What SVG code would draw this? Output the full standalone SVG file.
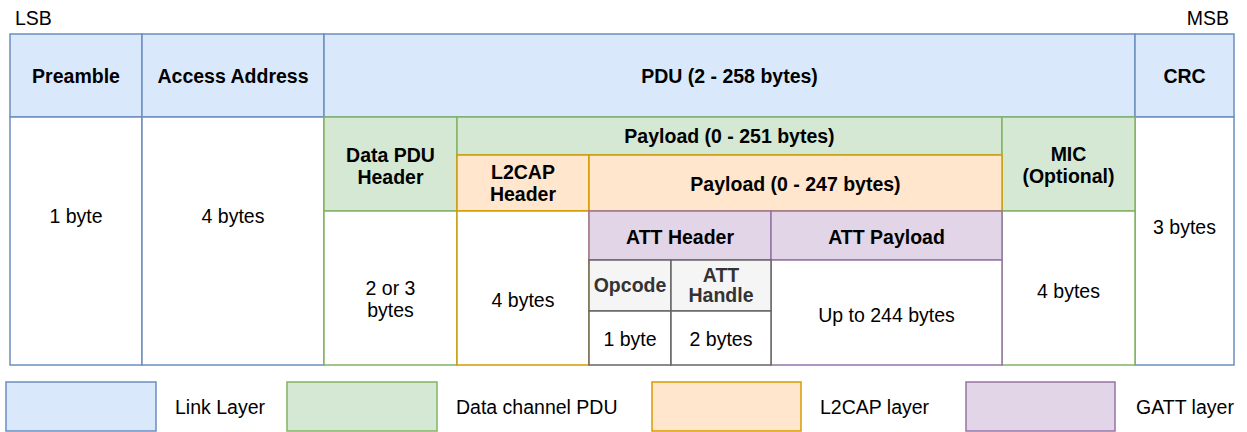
<svg xmlns="http://www.w3.org/2000/svg" width="1247" height="432" viewBox="0 0 1247 432">
  <style>
    text { font-family: "Liberation Sans", Arial, Helvetica, sans-serif; font-size: 19.5px; fill: #000; text-anchor: middle; }
    .b { font-weight: bold; }
    .l { text-anchor: start; }
    .r { text-anchor: end; }
    .grey { fill: #333333; }
    rect { stroke-width: 1.5; }
    .link { fill: #dae8fc; stroke: #6c8ebf; }
    .linkw { fill: #ffffff; stroke: #6c8ebf; }
    .pdu { fill: #d5e8d4; stroke: #82b366; }
    .pduw { fill: #ffffff; stroke: #82b366; }
    .l2 { fill: #ffe6cc; stroke: #d79b00; }
    .l2w { fill: #ffffff; stroke: #d79b00; }
    .att { fill: #e1d5e7; stroke: #9673a6; }
    .attw { fill: #ffffff; stroke: #9673a6; }
    .sub { fill: #f5f5f5; stroke: #666666; }
    .subw { fill: #ffffff; stroke: #666666; }
  </style>

  <!-- bit order labels -->
  <text class="l" x="15" y="25">LSB</text>
  <text class="r" x="1229" y="25">MSB</text>

  <!-- Link layer packet -->
  <g id="preamble">
    <rect class="link" x="10" y="34" width="132" height="83"/>
    <text class="b" x="76" y="82.5">Preamble</text>
  </g>
  <g id="preamble-size">
    <rect class="linkw" x="10" y="117" width="132" height="248"/>
    <text x="76" y="223">1 byte</text>
  </g>
  <g id="access-address">
    <rect class="link" x="142" y="34" width="182" height="83"/>
    <text class="b" x="233" y="82.5">Access Address</text>
  </g>
  <g id="access-address-size">
    <rect class="linkw" x="142" y="117" width="182" height="248"/>
    <text x="233" y="223">4 bytes</text>
  </g>
  <g id="pdu">
    <rect class="link" x="324" y="34" width="811" height="83"/>
    <text class="b" x="729.5" y="82.5">PDU (2 - 258 bytes)</text>
  </g>
  <g id="crc">
    <rect class="link" x="1135" y="34" width="99" height="83"/>
    <text class="b" x="1184.5" y="82.5">CRC</text>
  </g>
  <g id="crc-size">
    <rect class="linkw" x="1135" y="117" width="99" height="248"/>
    <text x="1184.5" y="234">3 bytes</text>
  </g>

  <!-- Data channel PDU -->
  <g id="data-pdu-header">
    <rect class="pdu" x="324" y="117" width="133" height="94"/>
    <text class="b" x="390.5" y="162">Data PDU</text>
    <text class="b" x="390.5" y="184">Header</text>
  </g>
  <g id="data-pdu-header-size">
    <rect class="pduw" x="324" y="211" width="133" height="154"/>
    <text x="390.5" y="295">2 or 3</text>
    <text x="390.5" y="317">bytes</text>
  </g>
  <g id="pdu-payload">
    <rect class="pdu" x="457" y="117" width="545" height="38"/>
    <text class="b" x="729.5" y="143">Payload (0 - 251 bytes)</text>
  </g>
  <g id="mic">
    <rect class="pdu" x="1002" y="117" width="133" height="94"/>
    <text class="b" x="1068.5" y="161">MIC</text>
    <text class="b" x="1068.5" y="183">(Optional)</text>
  </g>
  <g id="mic-size">
    <rect class="pduw" x="1002" y="211" width="133" height="154"/>
    <text x="1068.5" y="298">4 bytes</text>
  </g>

  <!-- L2CAP layer -->
  <g id="l2cap-header">
    <rect class="l2" x="457" y="155" width="132" height="56"/>
    <text class="b" x="523" y="179">L2CAP</text>
    <text class="b" x="523" y="201">Header</text>
  </g>
  <g id="l2cap-header-size">
    <rect class="l2w" x="457" y="211" width="132" height="154"/>
    <text x="523" y="307">4 bytes</text>
  </g>
  <g id="l2cap-payload">
    <rect class="l2" x="589" y="155" width="413" height="56"/>
    <text class="b" x="795.5" y="191">Payload (0 - 247 bytes)</text>
  </g>

  <!-- GATT layer -->
  <g id="att-header">
    <rect class="att" x="589" y="211" width="182" height="49"/>
    <text class="b" x="680" y="244">ATT Header</text>
  </g>
  <g id="att-payload">
    <rect class="att" x="771" y="211" width="231" height="49"/>
    <text class="b" x="886.5" y="244">ATT Payload</text>
  </g>
  <g id="att-payload-size">
    <rect class="attw" x="771" y="260" width="231" height="105"/>
    <text x="886.5" y="322">Up to 244 bytes</text>
  </g>
  <g id="opcode">
    <rect class="sub" x="589" y="260" width="82" height="51"/>
    <text class="b grey" x="630" y="292">Opcode</text>
  </g>
  <g id="opcode-size">
    <rect class="subw" x="589" y="311" width="82" height="54"/>
    <text x="630" y="346">1 byte</text>
  </g>
  <g id="att-handle">
    <rect class="sub" x="671" y="260" width="100" height="51"/>
    <text class="b grey" x="721" y="282">ATT</text>
    <text class="b grey" x="721" y="302">Handle</text>
  </g>
  <g id="att-handle-size">
    <rect class="subw" x="671" y="311" width="100" height="54"/>
    <text x="721" y="346">2 bytes</text>
  </g>

  <!-- no connectors in this layout -->
  <g id="connectors"/>

  <!-- legend -->
  <g id="legend-link">
    <rect class="link" x="6" y="382" width="150" height="49"/>
    <text class="l" x="175" y="414">Link Layer</text>
  </g>
  <g id="legend-pdu">
    <rect class="pdu" x="287" y="382" width="150" height="49"/>
    <text class="l" x="456" y="414">Data channel PDU</text>
  </g>
  <g id="legend-l2cap">
    <rect class="l2" x="652" y="382" width="149" height="49"/>
    <text class="l" x="820" y="414">L2CAP layer</text>
  </g>
  <g id="legend-gatt">
    <rect class="att" x="966" y="382" width="149" height="49"/>
    <text class="l" x="1136" y="414">GATT layer</text>
  </g>
</svg>
